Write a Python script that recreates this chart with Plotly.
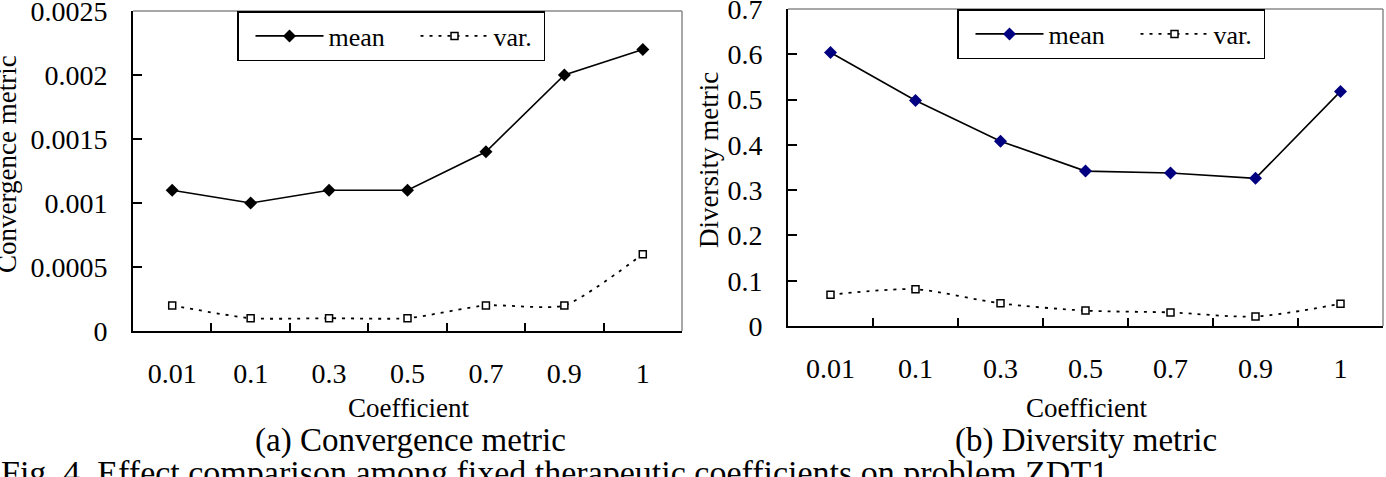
import plotly.graph_objects as go

# ---------------- data ----------------
coefficients = ["0.01", "0.1", "0.3", "0.5", "0.7", "0.9", "1"]

conv_mean = [0.0011, 0.0010, 0.0011, 0.0011, 0.0014, 0.0020, 0.0022]
conv_var = [0.0002, 0.0001, 0.0001, 0.0001, 0.0002, 0.0002, 0.0006]

div_mean = [0.604, 0.498, 0.408, 0.342, 0.338, 0.326, 0.518]
div_var = [0.069, 0.081, 0.050, 0.034, 0.030, 0.021, 0.049]

conv_ticks = [0, 0.0005, 0.001, 0.0015, 0.002, 0.0025]
conv_ticktext = ["0", "0.0005", "0.001", "0.0015", "0.002", "0.0025"]
div_ticks = [0, 0.1, 0.2, 0.3, 0.4, 0.5, 0.6, 0.7]
div_ticktext = ["0", "0.1", "0.2", "0.3", "0.4", "0.5", "0.6", "0.7"]

series_names = ["mean", "var."]

# ---------------- layout helpers ----------------
W, H = 1386, 477
FONT = "Liberation Serif"


def fx(px):
    return px / W


def fy(py):
    return 1 - py / H


fig = go.Figure()

DOT = "3px,6px"

# left panel: convergence
fig.add_trace(go.Scatter(
    x=coefficients, y=conv_mean, name=series_names[0], mode="lines+markers",
    line=dict(color="black", width=1.6),
    marker=dict(symbol="diamond", size=10, color="black"),
    xaxis="x", yaxis="y", legend="legend"))
fig.add_trace(go.Scatter(
    x=coefficients, y=conv_var, name=series_names[1], mode="lines+markers",
    line=dict(color="black", width=1.8, dash=DOT, shape="spline", smoothing=0.6),
    marker=dict(symbol="square", size=7, color="white", line=dict(color="black", width=1.5)),
    xaxis="x", yaxis="y", legend="legend", legendwidth=45))

# right panel: diversity
fig.add_trace(go.Scatter(
    x=coefficients, y=div_mean, name=series_names[0], mode="lines+markers",
    line=dict(color="black", width=1.6),
    marker=dict(symbol="diamond", size=10, color="#000080"),
    xaxis="x2", yaxis="y2", legend="legend2"))
fig.add_trace(go.Scatter(
    x=coefficients, y=div_var, name=series_names[1], mode="lines+markers",
    line=dict(color="black", width=1.8, dash=DOT, shape="spline", smoothing=0.8),
    marker=dict(symbol="square", size=7, color="white", line=dict(color="black", width=1.5)),
    xaxis="x2", yaxis="y2", legend="legend2", legendwidth=45))

xaxis_common = dict(
    type="category", range=[-0.5, 6.5], tickson="boundaries",
    ticks="inside", ticklen=8, tickwidth=1.5, tickcolor="black",
    showline=True, linecolor="black", linewidth=2,
    showgrid=False, zeroline=False, automargin=False,
    tickfont=dict(family=FONT, size=28, color="black"),
    ticklabelstandoff=16, ticklabeloverflow="allow", fixedrange=True,
)
yaxis_common = dict(
    ticks="inside", ticklen=9, tickwidth=1.5, tickcolor="black",
    showline=True, linecolor="black", linewidth=2,
    showgrid=False, zeroline=False, automargin=False,
    tickfont=dict(family=FONT, size=28, color="black"),
    ticklabelstandoff=18, ticklabeloverflow="allow", fixedrange=True,
)

legend_common = dict(
    orientation="h", xanchor="left", yanchor="top",
    bgcolor="white", bordercolor="black", borderwidth=1.5,
    font=dict(family=FONT, size=26, color="black"),
    itemwidth=68, entrywidth=70, tracegroupgap=0, indentation=12,
)

fig.update_layout(
    template="none",
    width=W, height=H, autosize=False,
    margin=dict(l=0, r=0, t=0, b=0, pad=0, autoexpand=False),
    paper_bgcolor="white", plot_bgcolor="white",
    showlegend=True,
    xaxis=dict(domain=[fx(133), fx(682)], anchor="y", **xaxis_common),
    yaxis=dict(domain=[fy(331), fy(11)], anchor="x", range=[0, 0.0025],
               tickvals=conv_ticks, ticktext=conv_ticktext, **yaxis_common),
    xaxis2=dict(domain=[fx(788), fx(1383)], anchor="y2", **xaxis_common),
    yaxis2=dict(domain=[fy(326), fy(9)], anchor="x2", range=[0, 0.7],
                tickvals=div_ticks, ticktext=div_ticktext, **yaxis_common),
    legend=dict(x=fx(237), y=fy(11), **legend_common),
    legend2=dict(x=fx(957), y=fy(9), **legend_common),
)

# gray top / right frame lines
for x0, x1, y0, y1 in [(133, 682, 11, 331), (788, 1383, 9, 326)]:
    fig.add_shape(type="line", xref="paper", yref="paper",
                  x0=fx(x0), x1=fx(x1), y0=fy(y0), y1=fy(y0),
                  line=dict(color="#8a8a8a", width=1.5))
    fig.add_shape(type="line", xref="paper", yref="paper",
                  x0=fx(x1), x1=fx(x1), y0=fy(y0), y1=fy(y1),
                  line=dict(color="#8a8a8a", width=1.5))

annots = [
    dict(text="Convergence metric", x=fx(7), y=fy(164), textangle=-90, size=27),
    dict(text="Diversity metric", x=fx(709), y=fy(160), textangle=-90, size=27),
    dict(text="Coefficient", x=fx(408), y=fy(408), textangle=0, size=27),
    dict(text="Coefficient", x=fx(1086), y=fy(408), textangle=0, size=27),
    dict(text="(a) Convergence metric", x=fx(410), y=fy(440), textangle=0, size=33),
    dict(text="(b) Diversity metric", x=fx(1086), y=fy(440), textangle=0, size=33),
]
for a in annots:
    fig.add_annotation(text=a["text"], x=a["x"], y=a["y"], xref="paper", yref="paper",
                       xanchor="center", yanchor="middle", textangle=a["textangle"],
                       showarrow=False, font=dict(family=FONT, size=a["size"], color="black"))

fig.add_annotation(
    text="Fig. 4. Effect comparison among fixed therapeutic coefficients on problem ZDT1",
    x=fx(-1), y=fy(452), xref="paper", yref="paper", xanchor="left", yanchor="top",
    showarrow=False, font=dict(family=FONT, size=34, color="black"))

fig.write_html("out.html", post_script="document.body.style.margin='0';")
